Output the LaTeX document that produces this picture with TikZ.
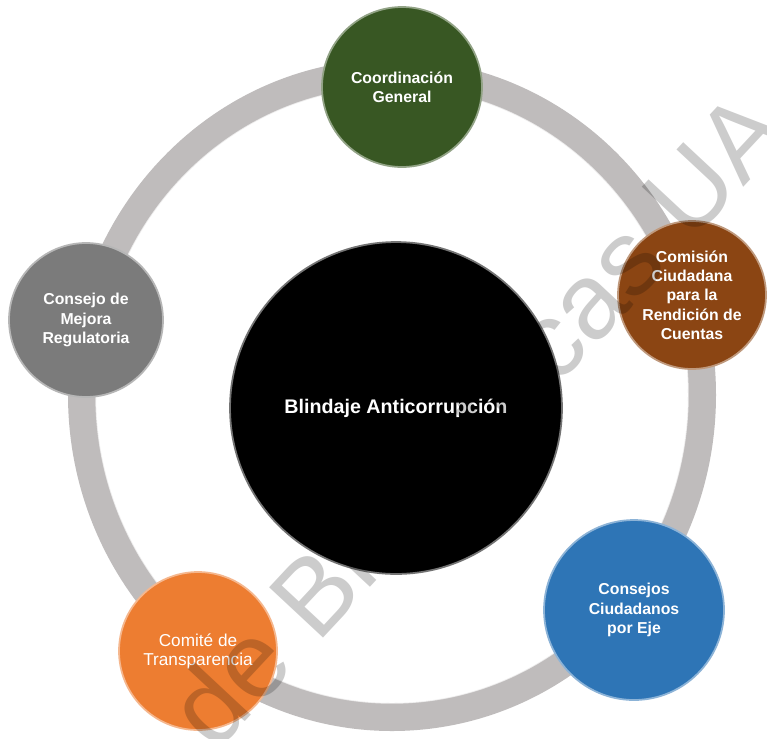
\documentclass[tikz,border=0pt]{standalone}
\usepackage{fontspec}
\setmainfont{Liberation Sans}
\definecolor{RingGray}{HTML}{BFBCBC}
\definecolor{CoordGreen}{HTML}{385723}
\definecolor{ComisionBrown}{HTML}{8B4513}
\definecolor{EjeBlue}{HTML}{2E75B6}
\definecolor{ComiteOrange}{HTML}{ED7D31}
\definecolor{MejoraGray}{HTML}{7B7B7B}

\begin{document}
\begin{tikzpicture}[
          x=0.02cm, y=-0.02cm,
          disc/.style={circle, fill=#1, draw=#1!55!white, line width=1pt, inner sep=0pt, text=white, align=center, font=\fontsize{9}{11}\selectfont\bfseries},
          ring/.style={draw=RingGray, line width=0.56cm},
          watermark/.style={text=gray!40, inner sep=0pt, font=\fontsize{61}{61}\selectfont}
        ]
          \fill[white] (0,0) rectangle (767,738);
          \useasboundingbox (0,0) rectangle (767,738);

          % Ring behind the discs
          \draw[ring] (392,395) ellipse [x radius=310, y radius=322];
          \draw[white, line width=0.8pt, opacity=0.7] (392,395) ellipse [x radius=296, y radius=308];

          % Discs on the ring
          \node[disc=CoordGreen, minimum size=3.2cm] (coord) at (402,87) {Coordinación\\General};
          \node[disc=ComisionBrown, minimum size=2.96cm] (comision) at (692,295) {Comisión\\Ciudadana\\para la\\Rendición de\\Cuentas};
          \node[disc=EjeBlue, minimum size=3.6cm] (eje) at (634,610) {Consejos\\Ciudadanos\\por Eje};
          \node[disc=ComiteOrange, minimum size=3.16cm, font=\fontsize{9.8}{10.8}\selectfont] (comite) at (198,651) {Comité de\\Transparencia};
          \node[disc=MejoraGray, minimum size=3.08cm] (mejora) at (86,320) {Consejo de\\Mejora\\Regulatoria};

          % Centre
          \node[disc=black, minimum size=6.64cm, font=\fontsize{11.2}{13}\selectfont\bfseries] (blindaje) at (396,408) {Blindaje Anticorrupción};

          % Watermark
          \begin{scope}[blend mode=multiply]
            \node[watermark, rotate=47] (marca) at (476,418) {de Bibliotecas UA};
          \end{scope}

        \end{tikzpicture}
\end{document}
